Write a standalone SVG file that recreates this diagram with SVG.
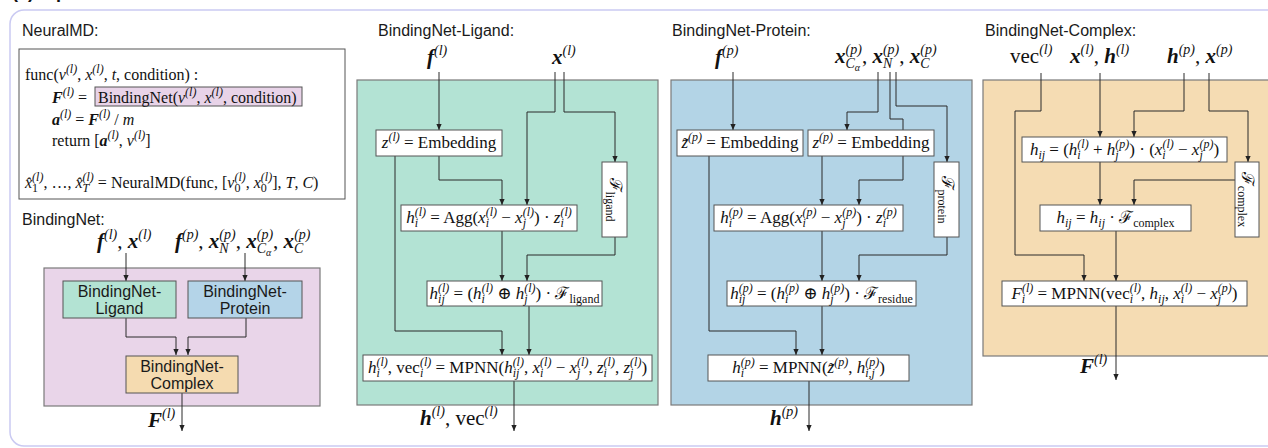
<svg xmlns="http://www.w3.org/2000/svg" width="1268" height="448" viewBox="0 0 1268 448">
<defs>
<style>
.s{font-family:"Liberation Sans",Arial,sans-serif;font-size:16px;fill:#1a1a1a}
.m{font-family:"Liberation Serif","DejaVu Serif",serif;font-size:17px;fill:#111}
.n{font-size:16px}
.i{font-style:italic}
.sp{font-size:12px;font-style:italic;baseline-shift:7px}
.sb{font-size:12px;font-style:italic;baseline-shift:-4px}
.sr{font-size:12px;baseline-shift:-4px}
.h{font-family:"Liberation Serif","DejaVu Serif",serif;font-size:21px;fill:#111}
.bi{font-weight:bold;font-style:italic}
.hs{font-size:14px;font-style:italic;baseline-shift:9px}
.hb{font-size:14px;font-style:italic;baseline-shift:-5px}
.hb2{font-size:10px;font-style:italic;baseline-shift:-8px}
.box{fill:#fff;stroke:#555;stroke-width:1}
.pan{stroke:#7a7a7a;stroke-width:1.2}
.c{fill:none;stroke:#2a2a2a;stroke-width:1;marker-end:url(#ah)}
.ttl{font-family:"Liberation Sans",Arial,sans-serif;font-size:16px;fill:#1a1a1a;text-anchor:middle}
</style>
<marker id="ah" viewBox="0 0 8 8" refX="8" refY="4" markerWidth="6" markerHeight="6" markerUnits="userSpaceOnUse" orient="auto"><path d="M0,0.5 L8,4 L0,7.5 z" fill="#222"/></marker>
</defs>
<rect width="1268" height="448" fill="#fff"/>
<text x="12" y="-2" font-family="Liberation Sans,Arial,sans-serif" font-size="18" font-weight="bold" fill="#111">(a) Pipeline</text>
<g id="frame"><rect x="10" y="10" width="1285" height="436" rx="14" fill="#fff" stroke="#cacaf2" stroke-width="1.5"/></g>

<!-- NeuralMD -->
<g id="neuralmd">
<text class="s" x="22" y="36">NeuralMD:</text>
<rect class="box" x="19" y="49" width="326" height="150"/>
<rect x="95" y="87" width="207" height="19" fill="#e8d3e8" stroke="#555" stroke-width="1"/>
<text class="m n" x="25" y="80">func(<tspan class="i">v</tspan><tspan class="sp">(l)</tspan>, <tspan class="i">x</tspan><tspan class="sp">(l)</tspan>, <tspan class="i">t</tspan>, condition) :</text>
<text class="m n" x="52" y="103"><tspan class="bi">F</tspan><tspan class="sp">(l)</tspan> =</text>
<text class="m n" x="98" y="103">BindingNet(<tspan class="i">v</tspan><tspan class="sp">(l)</tspan>, <tspan class="i">x</tspan><tspan class="sp">(l)</tspan>, condition)</text>
<text class="m n" x="52" y="125"><tspan class="bi">a</tspan><tspan class="sp">(l)</tspan> = <tspan class="bi">F</tspan><tspan class="sp">(l)</tspan> / <tspan class="i">m</tspan></text>
<text class="m n" x="52" y="146">return [<tspan class="bi">a</tspan><tspan class="sp">(l)</tspan>, <tspan class="i">v</tspan><tspan class="sp">(l)</tspan>]</text>
<text class="m n" x="25" y="188"><tspan class="i">x&#770;</tspan><tspan class="sr">1</tspan><tspan class="sp" dx="-6">(l)</tspan>, &#8230;, <tspan class="i">x&#770;</tspan><tspan class="sb">T</tspan><tspan class="sp" dx="-6.7">(l)</tspan> = NeuralMD(func, [<tspan class="i">v</tspan><tspan class="sr">0</tspan><tspan class="sp" dx="-6">(l)</tspan>, <tspan class="i">x</tspan><tspan class="sr">0</tspan><tspan class="sp" dx="-6">(l)</tspan>], <tspan class="i">T</tspan>, <tspan class="i">C</tspan>)</text>
</g>

<!-- BindingNet overview -->
<g id="bindingnet">
<text class="s" x="22" y="225">BindingNet:</text>
<text class="h" x="97" y="248"><tspan class="bi">f</tspan><tspan class="hs">(l)</tspan>, <tspan class="bi">x</tspan><tspan class="hs">(l)</tspan></text>
<text class="h" x="175" y="248"><tspan class="bi">f</tspan><tspan class="hs">(p)</tspan>, <tspan class="bi">x</tspan><tspan class="hb">N</tspan><tspan class="hs" dx="-9.3">(p)</tspan>, <tspan class="bi">x</tspan><tspan class="hb">C</tspan><tspan class="hb2">&#945;</tspan><tspan class="hs" dx="-14.5">(p)</tspan>, <tspan class="bi">x</tspan><tspan class="hb">C</tspan><tspan class="hs" dx="-9.3">(p)</tspan></text>
<rect class="pan" x="44" y="268" width="276" height="138" fill="#e9d5e9"/>
<text class="h" x="148" y="427"><tspan class="bi">F</tspan><tspan class="hs">(l)</tspan></text>
</g>

<!-- Panels -->
<g id="panel-ligand">
<text class="s" x="378" y="36">BindingNet-Ligand:</text>
<text class="h" x="427" y="64"><tspan class="bi">f</tspan><tspan class="hs">(l)</tspan></text>
<text class="h" x="552" y="64"><tspan class="bi">x</tspan><tspan class="hs">(l)</tspan></text>
<rect class="pan" x="357" y="80" width="301" height="325" fill="#b3e3d4"/>
<text class="h" x="420" y="425"><tspan class="bi">h</tspan><tspan class="hs">(l)</tspan>, vec<tspan class="hs">(l)</tspan></text>
</g>
<g id="panel-protein">
<text class="s" x="672" y="36">BindingNet-Protein:</text>
<text class="h" x="715" y="64"><tspan class="bi">f</tspan><tspan class="hs">(p)</tspan></text>
<text class="h" x="835" y="63"><tspan class="bi">x</tspan><tspan class="hb">C</tspan><tspan class="hb2">&#945;</tspan><tspan class="hs" dx="-14.5">(p)</tspan>, <tspan class="bi">x</tspan><tspan class="hb">N</tspan><tspan class="hs" dx="-9.3">(p)</tspan>, <tspan class="bi">x</tspan><tspan class="hb">C</tspan><tspan class="hs" dx="-9.3">(p)</tspan></text>
<rect class="pan" x="671" y="80" width="301" height="325" fill="#b3d4e6"/>
<text class="h" x="770" y="425"><tspan class="bi">h</tspan><tspan class="hs">(p)</tspan></text>
</g>
<g id="panel-complex">
<text class="s" x="985" y="36">BindingNet-Complex:</text>
<text class="h" x="1010" y="63">vec<tspan class="hs">(l)</tspan></text>
<text class="h" x="1070" y="63"><tspan class="bi">x</tspan><tspan class="hs">(l)</tspan>, <tspan class="bi">h</tspan><tspan class="hs">(l)</tspan></text>
<text class="h" x="1167" y="63"><tspan class="bi">h</tspan><tspan class="hs">(p)</tspan>, <tspan class="bi">x</tspan><tspan class="hs">(p)</tspan></text>
<rect class="pan" x="983" y="80" width="300" height="276" fill="#f5dcb3"/>
<text class="h" x="1080" y="373"><tspan class="bi">F</tspan><tspan class="hs">(l)</tspan></text>
</g>

<!-- Connectors -->
<g id="connectors">
<path class="c" d="M126,253 V281"/>
<path class="c" d="M245,253 V281"/>
<path class="c" d="M126,318 V337 H176 V355"/>
<path class="c" d="M246,318 V337 H188 V355"/>
<path class="c" d="M182,393 V431"/>

<path class="c" d="M439,72 V130"/>
<path class="c" d="M555,72 V112 H527 V205"/>
<path class="c" d="M564,72 V112 H615 V162"/>
<path class="c" d="M439,156 V180 H502 V205"/>
<path class="c" d="M395,156 V331 H502 V355"/>
<path class="c" d="M502,231 V281"/>
<path class="c" d="M615,237 V255 H527 V281"/>
<path class="c" d="M529,306 V355"/>
<path class="c" d="M514,381 V431"/>

<path class="c" d="M733,72 V130"/>
<path class="c" d="M878,72 V112 H847 V130"/>
<path class="c" d="M890,72 V119 H903 V180 H859 V205"/>
<path class="c" d="M896,72 V106 H947 V162"/>
<path class="c" d="M709,156 V331 H796 V355"/>
<path class="c" d="M822,156 V205"/>
<path class="c" d="M822,231 V281"/>
<path class="c" d="M947,237 V255 H859 V281"/>
<path class="c" d="M822,306 V355"/>
<path class="c" d="M809,381 V431"/>

<path class="c" d="M1041,73 V111 H1015 V255 H1084 V281"/>
<path class="c" d="M1100,73 V137"/>
<path class="c" d="M1184,73 V111 H1134 V137"/>
<path class="c" d="M1209,73 V111 H1248 V162"/>
<path class="c" d="M1235,180 H1134 V205"/>
<path class="c" d="M1100,162 V205"/>
<path class="c" d="M1116,231 V281"/>
<path class="c" d="M1116,306 V380"/>
</g>

<!-- BindingNet sub-nodes -->
<g id="bn-ligand"><rect x="63" y="281" width="113" height="37" fill="#b3e3d3" stroke="#555" stroke-width="1"/><text class="ttl" x="119.5" y="297">BindingNet-</text><text class="ttl" x="119.5" y="314">Ligand</text></g>
<g id="bn-protein"><rect x="188" y="281" width="114" height="37" fill="#b4d4e8" stroke="#555" stroke-width="1"/><text class="ttl" x="245" y="297">BindingNet-</text><text class="ttl" x="245" y="314">Protein</text></g>
<g id="bn-complex"><rect x="126" y="356" width="112" height="37" fill="#f5dbb0" stroke="#555" stroke-width="1"/><text class="ttl" x="182" y="372">BindingNet-</text><text class="ttl" x="182" y="389">Complex</text></g>

<!-- Ligand nodes -->
<g id="l-embed"><rect class="box" x="376" y="130" width="126" height="26"/><text class="m" x="439" y="148" text-anchor="middle"><tspan class="i">z</tspan><tspan class="sp">(l)</tspan> = Embedding</text></g>
<g id="l-agg"><rect class="box" x="401" y="205" width="176" height="26"/><text class="m" x="489" y="223" text-anchor="middle"><tspan class="i">h</tspan><tspan class="sb">i</tspan><tspan class="sp" dx="-3.3">(l)</tspan> = Agg(<tspan class="i">x</tspan><tspan class="sb">i</tspan><tspan class="sp" dx="-3.3">(l)</tspan> &#8722; <tspan class="i">x</tspan><tspan class="sb">j</tspan><tspan class="sp" dx="-3.3">(l)</tspan>) &#183; <tspan class="i">z</tspan><tspan class="sb">i</tspan><tspan class="sp" dx="-3.3">(l)</tspan></text></g>
<g id="l-fligand"><rect class="box" x="602" y="162" width="25" height="75"/><text class="m" transform="translate(614.5,199.5) rotate(90)" x="0" y="5" text-anchor="middle">&#8497;<tspan class="sr">ligand</tspan></text></g>
<g id="l-hij"><rect class="box" x="427" y="281" width="175" height="25"/><text class="m" x="514.5" y="299" text-anchor="middle"><tspan class="i">h</tspan><tspan class="sb">ij</tspan><tspan class="sp" dx="-6.7">(l)</tspan> = (<tspan class="i">h</tspan><tspan class="sb">i</tspan><tspan class="sp" dx="-3.3">(l)</tspan> &#8853; <tspan class="i">h</tspan><tspan class="sb">j</tspan><tspan class="sp" dx="-3.3">(l)</tspan>) &#183; &#8497;<tspan class="sr">ligand</tspan></text></g>
<g id="l-mpnn"><rect class="box" x="363" y="355" width="289" height="26"/><text class="m" x="507.5" y="373" text-anchor="middle"><tspan class="i">h</tspan><tspan class="sb">i</tspan><tspan class="sp" dx="-3.3">(l)</tspan>, vec<tspan class="sb">i</tspan><tspan class="sp" dx="-3.3">(l)</tspan> = MPNN(<tspan class="i">h</tspan><tspan class="sb">ij</tspan><tspan class="sp" dx="-6.7">(l)</tspan>, <tspan class="i">x</tspan><tspan class="sb">i</tspan><tspan class="sp" dx="-3.3">(l)</tspan> &#8722; <tspan class="i">x</tspan><tspan class="sb">j</tspan><tspan class="sp" dx="-3.3">(l)</tspan>, <tspan class="i">z</tspan><tspan class="sb">i</tspan><tspan class="sp" dx="-3.3">(l)</tspan>, <tspan class="i">z</tspan><tspan class="sb">j</tspan><tspan class="sp" dx="-3.3">(l)</tspan>)</text></g>

<!-- Protein nodes -->
<g id="p-embed-tilde"><rect class="box" x="677" y="130" width="126" height="26"/><text class="m" x="740" y="148" text-anchor="middle"><tspan class="i">z&#771;</tspan><tspan class="sp">(p)</tspan> = Embedding</text></g>
<g id="p-embed"><rect class="box" x="808" y="130" width="126" height="26"/><text class="m" x="871" y="148" text-anchor="middle"><tspan class="i">z</tspan><tspan class="sp">(p)</tspan> = Embedding</text></g>
<g id="p-agg"><rect class="box" x="714" y="205" width="189" height="26"/><text class="m" x="808.5" y="223" text-anchor="middle"><tspan class="i">h</tspan><tspan class="sb">i</tspan><tspan class="sp" dx="-3.3">(p)</tspan> = Agg(<tspan class="i">x</tspan><tspan class="sb">i</tspan><tspan class="sp" dx="-3.3">(p)</tspan> &#8722; <tspan class="i">x</tspan><tspan class="sb">j</tspan><tspan class="sp" dx="-3.3">(p)</tspan>) &#183; <tspan class="i">z</tspan><tspan class="sb">i</tspan><tspan class="sp" dx="-3.3">(p)</tspan></text></g>
<g id="p-fprotein"><rect class="box" x="934" y="162" width="25" height="75"/><text class="m" transform="translate(946.5,199.5) rotate(90)" x="0" y="5" text-anchor="middle">&#8497;<tspan class="sr">protein</tspan></text></g>
<g id="p-hij"><rect class="box" x="727" y="281" width="189" height="25"/><text class="m" x="821.5" y="299" text-anchor="middle"><tspan class="i">h</tspan><tspan class="sb">ij</tspan><tspan class="sp" dx="-6.7">(p)</tspan> = (<tspan class="i">h</tspan><tspan class="sb">i</tspan><tspan class="sp" dx="-3.3">(p)</tspan> &#8853; <tspan class="i">h</tspan><tspan class="sb">j</tspan><tspan class="sp" dx="-3.3">(p)</tspan>) &#183; &#8497;<tspan class="sr">residue</tspan></text></g>
<g id="p-mpnn"><rect class="box" x="708" y="355" width="201" height="26"/><text class="m" x="808.5" y="373" text-anchor="middle"><tspan class="i">h</tspan><tspan class="sb">i</tspan><tspan class="sp" dx="-3.3">(p)</tspan> = MPNN(<tspan class="i">z&#771;</tspan><tspan class="sp">(p)</tspan>, <tspan class="i">h</tspan><tspan class="sb">i,j</tspan><tspan class="sp" dx="-9.7">(p)</tspan>)</text></g>

<!-- Complex nodes -->
<g id="c-hij1"><rect class="box" x="1022" y="137" width="205" height="25"/><text class="m" x="1124.5" y="155" text-anchor="middle"><tspan class="i">h</tspan><tspan class="sb">ij</tspan> = (<tspan class="i">h</tspan><tspan class="sb">i</tspan><tspan class="sp" dx="-3.3">(l)</tspan> + <tspan class="i">h</tspan><tspan class="sb">j</tspan><tspan class="sp" dx="-3.3">(p)</tspan>) &#183; (<tspan class="i">x</tspan><tspan class="sb">i</tspan><tspan class="sp" dx="-3.3">(l)</tspan> &#8722; <tspan class="i">x</tspan><tspan class="sb">j</tspan><tspan class="sp" dx="-3.3">(p)</tspan>)</text></g>
<g id="c-fcomplex"><rect class="box" x="1235" y="162" width="24" height="75"/><text class="m" transform="translate(1247,199.5) rotate(90)" x="0" y="5" text-anchor="middle">&#8497;<tspan class="sr">complex</tspan></text></g>
<g id="c-hij2"><rect class="box" x="1040" y="205" width="151" height="26"/><text class="m" x="1115.5" y="223" text-anchor="middle"><tspan class="i">h</tspan><tspan class="sb">ij</tspan> = <tspan class="i">h</tspan><tspan class="sb">ij</tspan> &#183; &#8497;<tspan class="sr">complex</tspan></text></g>
<g id="c-mpnn"><rect class="box" x="1002" y="281" width="245" height="25"/><text class="m" x="1124.5" y="299" text-anchor="middle"><tspan class="i">F</tspan><tspan class="sb">i</tspan><tspan class="sp" dx="-3.3">(l)</tspan> = MPNN(vec<tspan class="sb">i</tspan><tspan class="sp" dx="-3.3">(l)</tspan>, <tspan class="i">h</tspan><tspan class="sb">ij</tspan>, <tspan class="i">x</tspan><tspan class="sb">i</tspan><tspan class="sp" dx="-3.3">(l)</tspan> &#8722; <tspan class="i">x</tspan><tspan class="sb">j</tspan><tspan class="sp" dx="-3.3">(p)</tspan>)</text></g>
</svg>
